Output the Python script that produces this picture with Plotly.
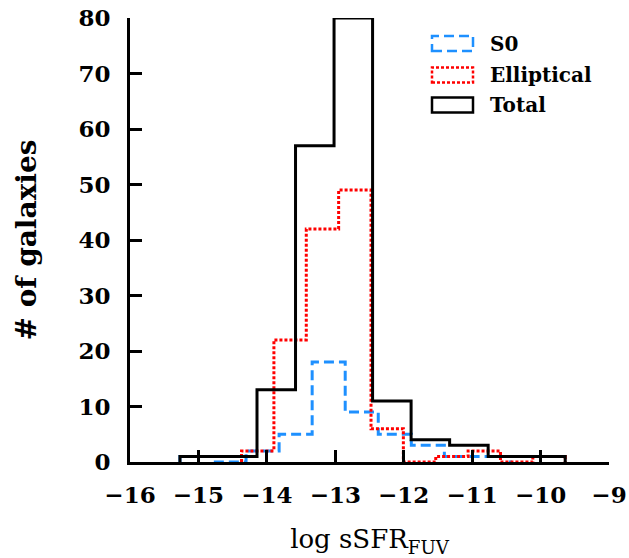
import numpy as np
import plotly.graph_objects as go

# Histogram counts per bin (10 bins each, spanning each sample's own range)
s0_range = (-15.27, -10.44)
s0_counts = [1, 0, 2, 5, 18, 9, 5, 3, 1, 1]

ell_range = (-14.37, -9.64)
ell_counts = [2, 22, 42, 49, 6, 0, 1, 2, 0, 1]

tot_range = (-15.27, -9.64)
tot_counts = [1, 1, 13, 57, 80, 11, 4, 3, 1, 1]

series_names = ["S0", "Elliptical", "Total"]

x_ticks = [-16, -15, -14, -13, -12, -11, -10, -9]
y_ticks = [0, 10, 20, 30, 40, 50, 60, 70, 80]

SERIF = "DejaVu Serif"


def step_outline(rng, counts):
    """Outline of an unfilled step histogram, closed down to zero at both ends."""
    edges = np.linspace(rng[0], rng[1], len(counts) + 1)
    xs, ys = [edges[0]], [0]
    for i, c in enumerate(counts):
        xs += [edges[i], edges[i + 1]]
        ys += [c, c]
    xs.append(edges[-1])
    ys.append(0)
    return xs, ys


styles = [
    dict(color="#1E90FF", dash="10px,5px"),
    dict(color="#FF0000", dash="3px,2px"),
    dict(color="#000000", dash="solid"),
]
data = [(s0_range, s0_counts), (ell_range, ell_counts), (tot_range, tot_counts)]

fig = go.Figure()
for name, (rng, counts), st in zip(series_names, data, styles):
    xs, ys = step_outline(rng, counts)
    fig.add_trace(go.Scatter(
        x=xs, y=ys, mode="lines", name=name,
        line=dict(color=st["color"], dash=st["dash"], width=3),
        showlegend=False, hoverinfo="skip",
    ))

# Plot-area geometry in pixels
W, H = 629, 558
L, R, T, B = 130, 20, 18, 96
pw, ph = W - L - R, H - T - B


def px_to_paper(px, py):
    return (px - L) / pw, (H - B - py) / ph


# Legend drawn as outlined boxes with bold labels
legend_rows = [43.5, 75, 105]
shapes = []
annotations = []
for name, st, cy in zip(series_names, styles, legend_rows):
    x0, y0 = px_to_paper(432, cy + 7.5)
    x1, y1 = px_to_paper(473, cy - 7.5)
    shapes.append(dict(
        type="rect", xref="paper", yref="paper", x0=x0, x1=x1, y0=y0, y1=y1,
        line=dict(color=st["color"], width=2.5, dash=st["dash"]),
        fillcolor="rgba(0,0,0,0)",
    ))
    tx, ty = px_to_paper(488, cy)
    annotations.append(dict(
        text=f"<b>{name}</b>", xref="paper", yref="paper", x=tx, y=ty,
        xanchor="left", yanchor="middle", showarrow=False,
        font=dict(family=SERIF, size=20, color="black"),
    ))

axis_common = dict(
    showline=True, linecolor="black", linewidth=3,
    ticks="inside", ticklen=12, tickwidth=3, tickcolor="black",
    showgrid=False, zeroline=False, mirror=False, automargin=False,
    tickfont=dict(family=SERIF, size=23, color="black", weight="bold"),
)

fig.update_layout(
    width=W, height=H,
    margin=dict(l=L, r=R, t=T, b=B),
    paper_bgcolor="white", plot_bgcolor="white",
    shapes=shapes, annotations=annotations,
    xaxis=dict(
        range=[-16, -9], tickvals=x_ticks, ticklabelstandoff=10,
        title=dict(text="log sSFR<sub>FUV</sub>", standoff=24,
                   font=dict(family=SERIF, size=26, color="black")),
        **axis_common,
    ),
    yaxis=dict(
        range=[0, 80], tickvals=y_ticks, ticklabelstandoff=12,
        title=dict(text="<b># of galaxies</b>", standoff=34,
                   font=dict(family=SERIF, size=28, color="black")),
        **axis_common,
    ),
)

fig.write_html("out.html")
